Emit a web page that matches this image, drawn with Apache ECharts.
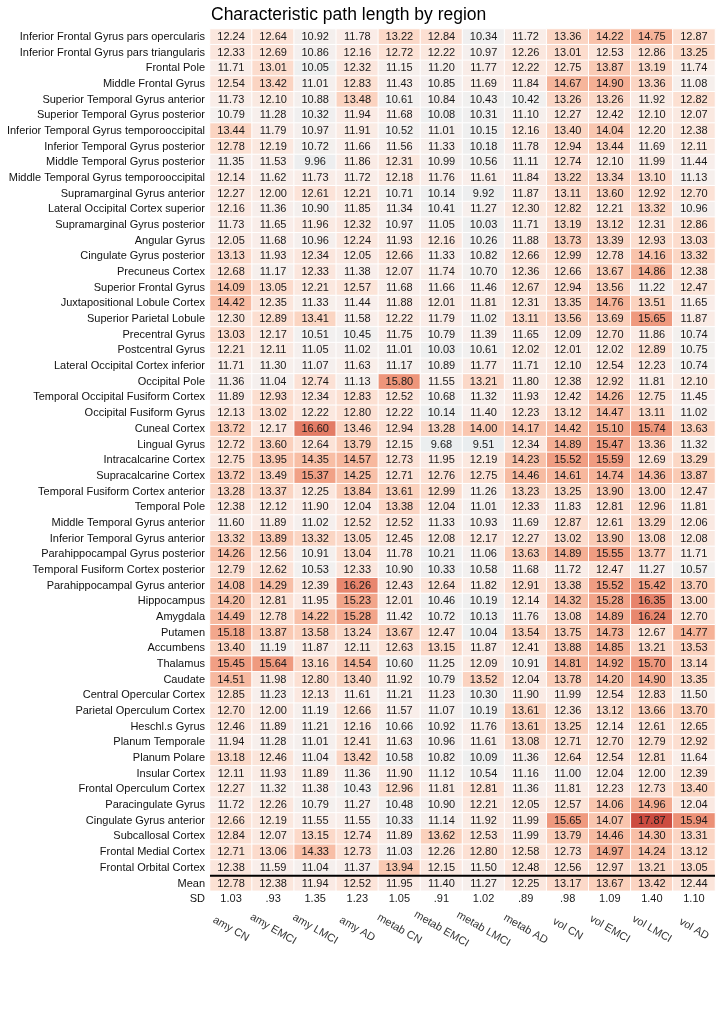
<!DOCTYPE html>
<html>
<head>
<meta charset="utf-8">
<script src="https://cdn.jsdelivr.net/npm/echarts@6/dist/echarts.min.js"></script>
<style>html,body{margin:0;padding:0;background:#fff}#c{width:720px;height:1017px}</style>
</head>
<body>
<div id="c"></div>
<script>
const titleText = 'Characteristic path length by region';
const columns = ['amy CN','amy EMCI','amy LMCI','amy AD','metab CN','metab EMCI','metab LMCI','metab AD','vol CN','vol EMCI','vol LMCI','vol AD'];
const regions = [
 'Inferior Frontal Gyrus pars opercularis','Inferior Frontal Gyrus pars triangularis','Frontal Pole','Middle Frontal Gyrus',
 'Superior Temporal Gyrus anterior','Superior Temporal Gyrus posterior','Inferior Temporal Gyrus temporooccipital',
 'Inferior Temporal Gyrus posterior','Middle Temporal Gyrus posterior','Middle Temporal Gyrus temporooccipital',
 'Supramarginal Gyrus anterior','Lateral Occipital Cortex superior','Supramarginal Gyrus posterior','Angular Gyrus',
 'Cingulate Gyrus posterior','Precuneus Cortex','Superior Frontal Gyrus','Juxtapositional Lobule Cortex',
 'Superior Parietal Lobule','Precentral Gyrus','Postcentral Gyrus','Lateral Occipital Cortex inferior','Occipital Pole',
 'Temporal Occipital Fusiform Cortex','Occipital Fusiform Gyrus','Cuneal Cortex','Lingual Gyrus','Intracalcarine Cortex',
 'Supracalcarine Cortex','Temporal Fusiform Cortex anterior','Temporal Pole','Middle Temporal Gyrus anterior',
 'Inferior Temporal Gyrus anterior','Parahippocampal Gyrus posterior','Temporal Fusiform Cortex posterior',
 'Parahippocampal Gyrus anterior','Hippocampus','Amygdala','Putamen','Accumbens','Thalamus','Caudate',
 'Central Opercular Cortex','Parietal Operculum Cortex','Heschl.s Gyrus','Planum Temporale','Planum Polare',
 'Insular Cortex','Frontal Operculum Cortex','Paracingulate Gyrus','Cingulate Gyrus anterior','Subcallosal Cortex',
 'Frontal Medial Cortex','Frontal Orbital Cortex'
];
const regionValues = [
 [12.24,12.64,10.92,11.78,13.22,12.84,10.34,11.72,13.36,14.22,14.75,12.87],
 [12.33,12.69,10.86,12.16,12.72,12.22,10.97,12.26,13.01,12.53,12.86,13.25],
 [11.71,13.01,10.05,12.32,11.15,11.20,11.77,12.22,12.75,13.87,13.19,11.74],
 [12.54,13.42,11.01,12.83,11.43,10.85,11.69,11.84,14.67,14.90,13.36,11.08],
 [11.73,12.10,10.88,13.48,10.61,10.84,10.43,10.42,13.26,13.26,11.92,12.82],
 [10.79,11.28,10.32,11.94,11.68,10.08,10.31,11.10,12.27,12.42,12.10,12.07],
 [13.44,11.79,10.97,11.91,10.52,11.01,10.15,12.16,13.40,14.04,12.20,12.38],
 [12.78,12.19,10.72,11.66,11.56,11.33,10.18,11.78,12.94,13.44,11.69,12.11],
 [11.35,11.53,9.96,11.86,12.31,10.99,10.56,11.11,12.74,12.10,11.99,11.44],
 [12.14,11.62,11.73,11.72,12.18,11.76,11.61,11.84,13.22,13.34,13.10,11.13],
 [12.27,12.00,12.61,12.21,10.71,10.14,9.92,11.87,13.11,13.60,12.92,12.70],
 [12.16,11.36,10.90,11.85,11.34,10.41,11.27,12.30,12.82,12.21,13.32,10.96],
 [11.73,11.65,11.96,12.32,10.97,11.05,10.03,11.71,13.19,13.12,12.31,12.86],
 [12.05,11.68,10.96,12.24,11.93,12.16,10.26,11.88,13.73,13.39,12.93,13.03],
 [13.13,11.93,12.34,12.05,12.66,11.33,10.82,12.66,12.99,12.78,14.16,13.32],
 [12.68,11.17,12.33,11.38,12.07,11.74,10.70,12.36,12.66,13.67,14.86,12.38],
 [14.09,13.05,12.21,12.57,11.68,11.66,11.46,12.67,12.94,13.56,11.22,12.47],
 [14.42,12.35,11.33,11.44,11.88,12.01,11.81,12.31,13.35,14.76,13.51,11.65],
 [12.30,12.89,13.41,11.58,12.22,11.79,11.02,13.11,13.56,13.69,15.65,11.87],
 [13.03,12.17,10.51,10.45,11.75,10.79,11.39,11.65,12.09,12.70,11.86,10.74],
 [12.21,12.11,11.05,11.02,11.01,10.03,10.61,12.02,12.01,12.02,12.89,10.75],
 [11.71,11.30,11.07,11.63,11.17,10.89,11.77,11.71,12.10,12.54,12.23,10.74],
 [11.36,11.04,12.74,11.13,15.80,11.55,13.21,11.80,12.38,12.92,11.81,12.10],
 [11.89,12.93,12.34,12.83,12.52,10.68,11.32,11.93,12.42,14.26,12.75,11.45],
 [12.13,13.02,12.22,12.80,12.22,10.14,11.40,12.23,13.12,14.47,13.11,11.02],
 [13.72,12.17,16.60,13.46,12.94,13.28,14.00,14.17,14.42,15.10,15.74,13.63],
 [12.72,13.60,12.64,13.79,12.15,9.68,9.51,12.34,14.89,15.47,13.36,11.32],
 [12.75,13.95,14.35,14.57,12.73,11.95,12.19,14.23,15.52,15.59,12.69,13.29],
 [13.72,13.49,15.37,14.25,12.71,12.76,12.75,14.46,14.61,14.74,14.36,13.87],
 [13.28,13.37,12.25,13.84,13.61,12.99,11.26,13.23,13.25,13.90,13.00,12.47],
 [12.38,12.12,11.90,12.04,13.38,12.04,11.01,12.33,11.83,12.81,12.96,11.81],
 [11.60,11.89,11.02,12.52,12.52,11.33,10.93,11.69,12.87,12.61,13.29,12.06],
 [13.32,13.89,13.32,13.05,12.45,12.08,12.17,12.27,13.02,13.90,13.08,12.08],
 [14.26,12.56,10.91,13.04,11.78,10.21,11.06,13.63,14.89,15.55,13.77,11.71],
 [12.79,12.62,10.53,12.33,10.90,10.33,10.58,11.68,11.72,12.47,11.27,10.57],
 [14.08,14.29,12.39,16.26,12.43,12.64,11.82,12.91,13.38,15.52,15.42,13.70],
 [14.20,12.81,11.95,15.23,12.01,10.46,10.19,12.14,14.32,15.28,16.35,13.00],
 [14.49,12.78,14.22,15.28,11.42,10.72,10.13,11.76,13.08,14.89,16.24,12.70],
 [15.18,13.87,13.58,13.24,13.67,12.47,10.04,13.54,13.75,14.73,12.67,14.77],
 [13.40,11.19,11.87,12.11,12.63,13.15,11.87,12.41,13.88,14.85,13.21,13.53],
 [15.45,15.64,13.16,14.54,10.60,11.25,12.09,10.91,14.81,14.92,15.70,13.14],
 [14.51,11.98,12.80,13.40,11.92,10.79,13.52,12.04,13.78,14.20,14.90,13.35],
 [12.85,11.23,12.13,11.61,11.21,11.23,10.30,11.90,11.99,12.54,12.83,11.50],
 [12.70,12.00,11.19,12.66,11.57,11.07,10.19,13.61,12.36,13.12,13.66,13.70],
 [12.46,11.89,11.21,12.16,10.66,10.92,11.76,13.61,13.25,12.14,12.61,12.65],
 [11.94,11.28,11.01,12.41,11.63,10.96,11.61,13.08,12.71,12.70,12.79,12.92],
 [13.18,12.46,11.04,13.42,10.58,10.82,10.09,11.36,12.64,12.54,12.81,11.64],
 [12.11,11.93,11.89,11.36,11.90,11.12,10.54,11.16,11.00,12.04,12.00,12.39],
 [12.27,11.32,11.38,10.43,12.96,11.81,12.81,11.36,11.81,12.23,12.73,13.40],
 [11.72,12.26,10.79,11.27,10.48,10.90,12.21,12.05,12.57,14.06,14.96,12.04],
 [12.66,12.19,11.55,11.55,10.33,11.14,11.92,11.99,15.65,14.07,17.87,15.94],
 [12.84,12.07,13.15,12.74,11.89,13.62,12.53,11.99,13.79,14.46,14.30,13.31],
 [12.71,13.06,14.33,12.73,11.03,12.26,12.80,12.58,12.73,14.97,14.24,13.12],
 [12.38,11.59,11.04,11.37,13.94,12.15,11.50,12.48,12.56,12.97,13.21,13.05]
];
const meanValues = [12.78,12.38,11.94,12.52,11.95,11.40,11.27,12.25,13.17,13.67,13.42,12.44];
const sdValues = [1.03,0.93,1.35,1.23,1.05,0.91,1.02,0.89,0.98,1.09,1.40,1.10];
const rowLabels = regions.concat(['Mean','SD']);

const font = 'Liberation Sans, Arial, Helvetica, sans-serif';
const heatData = [];
regionValues.forEach((row, r) => row.forEach((v, c) => heatData.push([c, r, v])));
meanValues.forEach((v, c) => heatData.push([c, regions.length, v]));
const sdData = sdValues.map((v, c) => [c, regions.length + 1, v]);

const chart = echarts.init(document.getElementById('c'), null, {renderer: 'canvas'});
const fmt2 = p => p.value[2].toFixed(2);
const fmtSd = p => { const s = p.value[2].toFixed(2); return s.startsWith('0') ? s.slice(1) : s; };
chart.setOption({
  animation: false,
  backgroundColor: '#ffffff',
  title: {text: titleText, left: 206, top: 1, textStyle: {fontFamily: font, fontSize: 17.5, fontWeight: 'normal', color: '#000'}},
  grid: {left: 210, right: 5, top: 29, bottom: 110, containLabel: false},
  xAxis: {type: 'category', data: columns, position: 'bottom',
    axisLine: {show: false}, axisTick: {show: false}, splitLine: {show: false},
    axisLabel: {rotate: -30, interval: 0, margin: 22, align: 'center', verticalAlign: 'middle', fontFamily: font, fontSize: 11, color: '#333'}},
  yAxis: {type: 'category', data: rowLabels, inverse: true,
    axisLine: {show: false}, axisTick: {show: false}, splitLine: {show: false},
    axisLabel: {interval: 0, margin: 5, fontFamily: font, fontSize: 11, color: '#111'}},
  visualMap: {show: false, type: 'continuous', seriesIndex: 0, min: 9.5, max: 17.9, dimension: 2,
    inRange: {color: ['#e9edef','#f2f0ef','#f9eeea','#fce3d7','#fbcfba','#f6b398','#ee957a','#e0735e','#cb4b3f']}},
  series: [
    {type: 'heatmap', data: heatData, itemStyle: {borderColor: '#ffffff', borderWidth: 1},
     label: {show: true, formatter: fmt2, fontFamily: font, fontSize: 11, color: '#1a1a1a'}},
    {type: 'heatmap', data: sdData, itemStyle: {color: '#ffffff', borderColor: '#ffffff', borderWidth: 1},
     label: {show: true, formatter: fmtSd, fontFamily: font, fontSize: 11, color: '#1a1a1a'}}
  ]
});
const yA = chart.convertToPixel({yAxisIndex: 0}, regions[regions.length - 1]);
const yB = chart.convertToPixel({yAxisIndex: 0}, 'Mean');
const x0 = chart.convertToPixel({xAxisIndex: 0}, columns[0]);
const x1 = chart.convertToPixel({xAxisIndex: 0}, columns[columns.length - 1]);
const half = (x1 - x0) / (columns.length - 1) / 2;
const yLine = (yA + yB) / 2;
chart.setOption({graphic: [{type: 'line', shape: {x1: x0 - half, y1: yLine, x2: x1 + half, y2: yLine}, style: {stroke: '#000', lineWidth: 2}, z: 100}]});
</script>
</body>
</html>
